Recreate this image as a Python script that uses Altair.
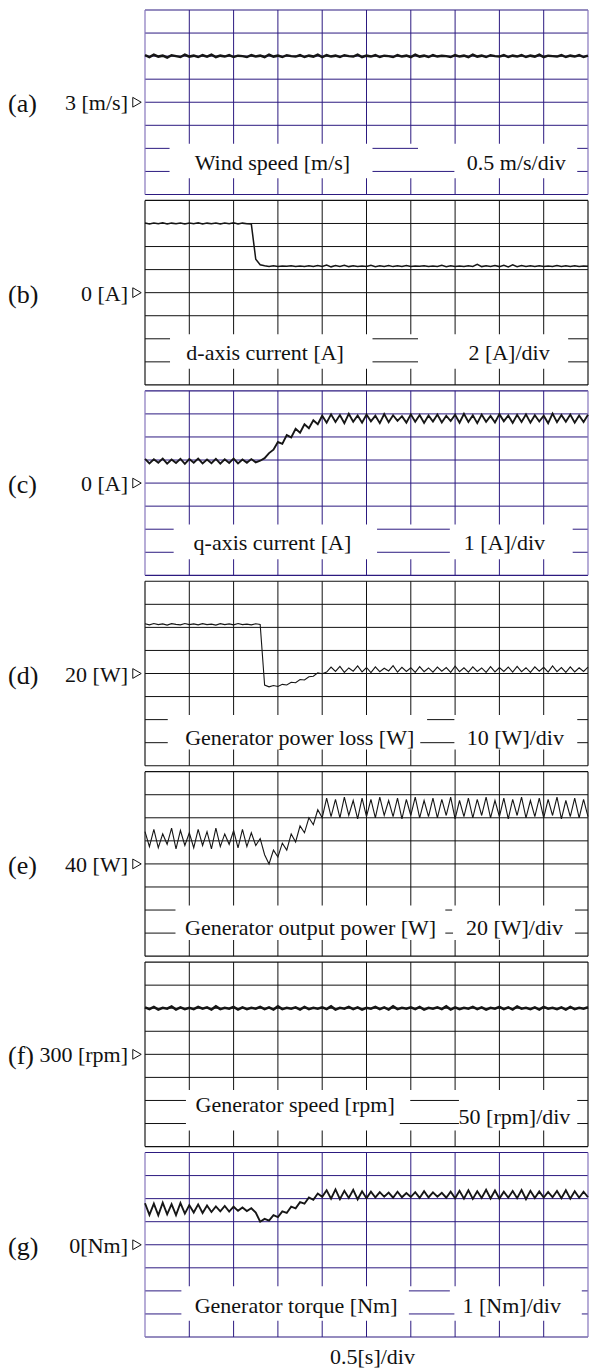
import altair as alt
import pandas as pd

# ------------------------------------------------------------------ data
# sampling instants of the traces [s] (0.5 s/div, 10 divisions)
time_s = [round(i * 0.05, 2) for i in range(101)]

wind_speed = [  # m/s
    4.02, 3.98, 4.03, 3.99, 4.01, 3.97, 4.02, 4.00, 3.98, 4.03,
    3.99, 4.01, 3.98, 4.02, 3.99, 4.03, 3.98, 4.01, 3.99, 4.02,
    3.98, 4.01, 4.00, 3.98, 4.02, 3.99, 4.01, 3.98, 4.03, 3.99,
    4.01, 3.98, 4.02, 4.00, 3.99, 4.02, 3.98, 4.01, 3.99, 4.03,
    3.98, 4.02, 3.99, 4.01, 3.98, 4.02, 4.00, 3.99, 4.03, 3.98,
    4.01, 3.99, 4.02, 3.98, 4.01, 4.00, 3.98, 4.02, 3.99, 4.01,
    3.98, 4.03, 3.99, 4.01, 3.98, 4.02, 3.99, 4.01, 4.00, 3.98,
    4.02, 3.99, 4.01, 3.98, 4.03, 3.99, 4.01, 3.98, 4.02, 4.00,
    3.99, 4.02, 3.98, 4.01, 3.99, 4.02, 3.98, 4.01, 3.99, 4.03,
    3.98, 4.01, 4.00, 3.99, 4.02, 3.98, 4.01, 3.99, 4.02, 3.98,
    4.01,
]

d_current = [  # A
    6.05, 5.96, 6.04, 5.97, 6.06, 5.95, 6.03, 5.98, 6.05, 5.96,
    6.04, 5.97, 6.06, 5.96, 6.03, 5.97, 6.05, 5.95, 6.04, 5.98,
    6.06, 5.96, 6.03, 5.97, 5.95, 2.90, 2.42, 2.33,
    2.28, 2.33, 2.27, 2.32, 2.29, 2.34, 2.27, 2.31, 2.28, 2.33,
    2.26, 2.35, 2.28, 2.40, 2.24, 2.36, 2.27, 2.38, 2.26, 2.34,
    2.28, 2.32, 2.27, 2.37, 2.25, 2.34, 2.28, 2.36, 2.26, 2.33,
    2.28, 2.35, 2.27, 2.31, 2.29, 2.34, 2.26, 2.32, 2.28, 2.37,
    2.25, 2.33, 2.28, 2.31, 2.27, 2.34, 2.28, 2.45, 2.26, 2.33,
    2.27, 2.35, 2.26, 2.38, 2.23, 2.42, 2.26, 2.36, 2.28, 2.33,
    2.27, 2.34, 2.28, 2.32, 2.26, 2.35, 2.28, 2.33, 2.27, 2.34,
    2.28, 2.32, 2.29,
]

q_current = [  # A
    1.05, 0.85, 1.03, 0.88, 1.06, 0.84, 1.02, 0.87, 1.05, 0.83,
    1.04, 0.88, 1.06, 0.85, 1.02, 0.86, 1.05, 0.84, 1.03, 0.87,
    1.06, 0.85, 1.02, 0.88, 1.04, 0.90,
    0.97, 1.08, 1.30, 1.45, 1.78, 1.70, 2.08, 1.98, 2.35, 2.18,
    2.55, 2.38, 2.72, 2.55, 2.92,
    2.62, 2.98, 2.65, 2.95, 2.60, 3.00, 2.66, 2.93, 2.62, 2.97,
    2.68, 2.92, 2.60, 2.99, 2.64, 2.94, 2.70, 2.90, 2.62, 2.98,
    2.66, 2.95, 2.61, 2.93, 2.67, 2.97, 2.63, 2.92, 2.69, 2.96,
    2.62, 3.00, 2.65, 2.94, 2.60, 2.97, 2.66, 2.91, 2.63, 2.99,
    2.68, 2.93, 2.61, 2.96, 2.65, 2.98, 2.62, 2.94, 2.67, 2.92,
    2.60, 3.01, 2.64, 2.95, 2.66, 2.97, 2.62, 2.93, 2.65, 2.96,
]

power_loss = [  # W
    41.6, 41.1, 41.7, 41.2, 41.5, 41.0, 41.6, 41.3, 41.1, 41.7,
    41.2, 41.5, 41.1, 41.6, 41.2, 41.4, 41.0, 41.6, 41.2, 41.5,
    41.1, 41.7, 41.2, 41.4, 41.1, 41.6, 41.3,
    15.0, 14.2, 14.8, 14.4, 15.3, 15.0, 16.2, 16.0, 17.4, 17.2,
    18.6, 18.8, 20.3, 19.9,
    20.6, 22.8, 20.9, 23.1, 20.5, 22.4, 21.0, 23.3, 20.7, 22.6,
    20.4, 22.9, 20.8, 22.3, 21.1, 23.4, 20.6, 22.7, 20.9, 22.5,
    20.5, 23.0, 20.8, 22.4, 20.6, 22.8, 21.0, 22.6, 20.5, 23.2,
    20.8, 22.5, 20.6, 22.9, 20.9, 22.4, 20.5, 23.0, 20.7, 22.6,
    20.9, 22.8, 20.6, 23.1, 20.8, 22.5, 20.5, 22.9, 21.0, 22.7,
    20.6, 23.3, 20.8, 22.6, 20.5, 22.9, 20.7, 22.5, 20.9, 22.8,
]

output_power = [  # W
    68, 55, 70, 54, 66, 57, 71, 53, 69, 56,
    67, 54, 70, 56, 68, 53, 71, 55, 66, 57,
    69, 54, 70, 55, 67, 56, 62,
    48, 40, 52, 46, 58, 52, 66, 59, 73, 67,
    80, 74, 87, 80,
    97, 81, 96, 80, 98, 82, 95, 79, 97, 81,
    96, 80, 98, 82, 95, 81, 97, 79, 96, 82,
    98, 80, 95, 81, 97, 80, 96, 82, 98, 79,
    95, 81, 97, 80, 96, 82, 98, 80, 95, 81,
    97, 79, 96, 82, 98, 80, 95, 81, 97, 80,
    96, 82, 98, 79, 95, 81, 97, 80, 96, 81,
]

gen_speed = [  # rpm
    402, 398, 403, 397, 401, 399, 404, 397, 402, 398,
    401, 398, 403, 399, 402, 397, 404, 398, 401, 399,
    403, 397, 402, 398, 401, 399, 403, 398, 402, 397,
    404, 398, 401, 399, 402, 397, 403, 398, 401, 399,
    402, 398, 404, 397, 401, 399, 403, 398, 402, 397,
    401, 399, 403, 398, 402, 397, 404, 398, 401, 399,
    402, 398, 403, 397, 401, 399, 402, 398, 404, 397,
    402, 398, 401, 399, 403, 398, 402, 397, 401, 399,
    403, 398, 402, 397, 404, 399, 401, 398, 402, 397,
    403, 399, 401, 398, 402, 397, 403, 398, 401, 399,
    402,
]

gen_torque = [  # Nm
    1.80, 1.30, 1.78, 1.28, 1.82, 1.32, 1.76, 1.29, 1.81, 1.35,
    1.72, 1.40, 1.75, 1.38, 1.70, 1.42, 1.66, 1.45, 1.68, 1.44,
    1.65, 1.47, 1.62, 1.46, 1.58,
    1.40, 1.00, 1.12, 1.05, 1.28, 1.20, 1.45, 1.38, 1.65, 1.58,
    1.85, 1.78, 2.05, 1.95, 2.22, 2.08,
    2.36, 2.00, 2.40, 1.98, 2.34, 2.03, 2.38, 1.97, 2.32, 2.02,
    2.30, 2.05, 2.28, 2.08, 2.26, 2.04, 2.30, 2.06, 2.24, 2.07,
    2.28, 2.03, 2.32, 2.05, 2.27, 2.08, 2.25, 2.04, 2.30, 2.02,
    2.34, 2.00, 2.36, 1.99, 2.32, 2.03, 2.38, 2.01, 2.35, 2.00,
    2.30, 2.04, 2.33, 2.02, 2.37, 1.98, 2.34, 2.03, 2.31, 2.05,
    2.29, 2.06, 2.33, 2.02, 2.36, 2.00, 2.32, 2.04, 2.30, 2.06,
]

panel_letters = ["(a)", "(b)", "(c)", "(d)", "(e)", "(f)", "(g)"]
ref_labels = ["3 [m/s]", "0 [A]", "0 [A]", "20 [W]", "40 [W]", "300 [rpm]", "0[Nm]"]
ref_values = [3, 0, 0, 20, 40, 300, 0]
per_div = [0.5, 2, 1, 10, 20, 50, 1]
signal_names = ["Wind speed [m/s]", "d-axis current [A]", "q-axis current [A]",
                "Generator power loss [W]", "Generator output power [W]",
                "Generator speed [rpm]", "Generator torque [Nm]"]
scale_texts = ["0.5 m/s/div", "2 [A]/div", "1 [A]/div", "10 [W]/div",
               "20 [W]/div", "50 [rpm]/div", "1 [Nm]/div"]
time_div_text = "0.5[s]/div"
series = [wind_speed, d_current, q_current, power_loss, output_power, gen_speed, gen_torque]

# ------------------------------------------------------------------ layout / style
PLOT_W = 443            # px (page leaves ~582 px for the whole chart)
PX_PER_S = PLOT_W / 5.0
REF_DIV_PX = 45.5       # horizontal px of one division in the original figure
PITCH = 8.257           # panel pitch in vertical divisions
NY = 8                  # vertical divisions per panel
T_END = 5.0             # 10 div x 0.5 s
Y_TOP = 6 * PITCH + NY
FONT = "Liberation Serif"
scheme = ["purple", "black", "purple", "black", "black", "black", "purple"]
GRID_COL = {"purple": "#2c1a80", "black": "#111111"}
EDGE_COL = {"purple": "#8676bd", "black": "#1a1a1a"}
thick_group = ["xthick", "mid", "thick", "thin", "thin", "xthick", "thick"]
# label positions: (x in original divisions, y in divisions above panel bottom)
title_pos = [(2.80, 1.08), (2.64, 1.08), (2.80, 1.08), (3.40, 0.92),
             (3.64, 0.92), (3.30, 1.50), (3.32, 1.06)]
scale_pos = [(8.16, 1.08), (8.00, 1.08), (7.90, 1.08), (8.14, 0.92),
             (8.12, 0.92), (8.12, 1.00), (8.06, 1.06)]
band = [(0.7, 2.2)] * 5 + [(0.7, 2.45)] + [(0.7, 2.2)]
gaps = [  # (line, x1_div, x2_div) in original divisions
    [(2, 0, .54), (2, 5.0, 6.0), (2, 9.5, 10), (1, 0, .54), (1, 5.0, 6.8), (1, 9.5, 10)],
    [(2, 0, .55), (2, 5.0, 6.0), (2, 9.3, 10), (1, 0, .55), (1, 5.0, 6.0), (1, 9.3, 10)],
    [(2, 0, .63), (2, 5.1, 6.7), (2, 9.4, 10), (1, 0, .63), (1, 5.1, 6.7), (1, 9.4, 10)],
    [(2, 0, .5), (2, 6.2, 6.8), (2, 9.5, 10), (1, 0, .5), (1, 6.05, 6.8), (1, 9.5, 10)],
    [(2, 0, .67), (2, 6.6, 6.75), (2, 9.45, 10), (1, 0, .67), (1, 6.6, 6.77), (1, 9.45, 10)],
    [(2, 0, .9), (2, 5.83, 6.9), (2, 9.5, 10), (1, 0, .9), (1, 5.6, 6.9), (1, 9.5, 10)],
    [(2, 0, .8), (2, 5.8, 6.7), (2, 9.6, 10), (1, 0, .8), (1, 5.8, 6.8), (1, 9.6, 10)],
]
X_LETTER = -137 / PX_PER_S     # left edge of "(a)" at the page margin
X_UNIT = -17 / PX_PER_S
X_TRI = -8 / PX_PER_S
Y_BOTTOM_LABEL = -1.17


def ref_t(div):
    """original-figure division -> time coordinate of this chart"""
    return min(div * REF_DIV_PX / PX_PER_S, T_END)


# ------------------------------------------------------------------ tables
grid_rows, edge_rows, band_rows, seg_rows = [], [], [], []
title_rows, scale_rows, left_rows, trace_rows = [], [], [], []
for i in range(7):
    base = (6 - i) * PITCH
    gc, ec = GRID_COL[scheme[i]], EDGE_COL[scheme[i]]
    for k in range(1, NY):
        grid_rows.append(dict(x=0, x2=T_END, y=base + k, y2=base + k, c=gc))
    for j in range(1, 10):
        grid_rows.append(dict(x=j * 0.5, x2=j * 0.5, y=base, y2=base + NY, c=gc))
    band_rows.append(dict(x=0, x2=T_END, y=base + band[i][0], y2=base + band[i][1]))
    for k, a, b in gaps[i]:
        seg_rows.append(dict(x=ref_t(a), x2=ref_t(b), y=base + k, y2=base + k, c=gc))
    for k in (0, NY):
        edge_rows.append(dict(x=0, x2=T_END, y=base + k, y2=base + k, c=gc))
    for xv in (0, T_END):
        edge_rows.append(dict(x=xv, x2=xv, y=base, y2=base + NY, c=ec))
    title_rows.append(dict(x=ref_t(title_pos[i][0]), y=base + title_pos[i][1], txt=signal_names[i]))
    scale_rows.append(dict(x=ref_t(scale_pos[i][0]), y=base + scale_pos[i][1], txt=scale_texts[i]))
    left_rows.append(dict(y=base + NY / 2, letter=panel_letters[i], unit=ref_labels[i],
                          xl=X_LETTER, xu=X_UNIT, xt=X_TRI))
    for t, v in zip(time_s, series[i]):
        trace_rows.append(dict(panel=panel_letters[i], grp=thick_group[i], t=t,
                               y=base + NY / 2 + (v - ref_values[i]) / per_div[i]))

grid_df = pd.DataFrame(grid_rows)
edge_df = pd.DataFrame(edge_rows)
band_df = pd.DataFrame(band_rows)
seg_df = pd.DataFrame(seg_rows)
title_df = pd.DataFrame(title_rows)
scale_df = pd.DataFrame(scale_rows)
left_df = pd.DataFrame(left_rows)
trace_df = pd.DataFrame(trace_rows)
bottom_df = pd.DataFrame([dict(x=ref_t(5.0), y=Y_BOTTOM_LABEL, txt=time_div_text)])

XS = alt.Scale(domain=[0, T_END], nice=False, zero=False)
YS = alt.Scale(domain=[0, Y_TOP], nice=False, zero=False)


def X(f):
    return alt.X(f, type="quantitative", scale=XS, axis=None)


def Y(f):
    return alt.Y(f, type="quantitative", scale=YS, axis=None)


def rules(df, sw=1.0):
    return alt.Chart(df).mark_rule(strokeWidth=sw).encode(
        x=X("x"), x2="x2", y=Y("y"), y2="y2", color=alt.Color("c:N", scale=None))


grid = rules(grid_df, 1.0)
bands = alt.Chart(band_df).mark_rect(color="white").encode(x=X("x"), x2="x2", y=Y("y"), y2="y2")
segs = rules(seg_df, 1.0)
edges = rules(edge_df, 1.2)


def text_layer(df, field, size, align, baseline, xfield="x", dy=0):
    return alt.Chart(df).mark_text(font=FONT, fontSize=size, align=align, baseline=baseline,
                                   color="#111", dy=dy).encode(
        x=X(xfield), y=Y("y"), text=alt.Text(field, type="nominal"))


titles = text_layer(title_df, "txt", 22, "center", "alphabetic")
scales_t = text_layer(scale_df, "txt", 22, "center", "alphabetic")
letters = text_layer(left_df, "letter", 26, "left", "middle", xfield="xl", dy=2)
units = text_layer(left_df, "unit", 22, "right", "middle", xfield="xu", dy=1)
tris = alt.Chart(left_df).mark_point(shape="triangle-right", filled=False, size=95,
                                     color="#111", strokeWidth=1, opacity=1).encode(
    x=X("xt"), y=Y("y"))


def trace_layer(grp, sw):
    return alt.Chart(trace_df).transform_filter(alt.datum.grp == grp).mark_line(
        color="#161616", strokeWidth=sw).encode(x=X("t"), y=Y("y"), detail="panel:N")


traces = [trace_layer("xthick", 2.5), trace_layer("thick", 1.9),
          trace_layer("mid", 1.5), trace_layer("thin", 1.1)]
bottom = text_layer(bottom_df, "txt", 22, "center", "alphabetic")

chart = alt.layer(grid, bands, segs, edges, *traces,
                  titles, scales_t, letters, units, tris, bottom).properties(
    width=PLOT_W, height=1327,
    padding={"top": 1, "bottom": 0, "left": 0, "right": 0},
).configure_view(stroke=None)

chart.save("out.html", embed_options={"renderer": "svg", "actions": False})
